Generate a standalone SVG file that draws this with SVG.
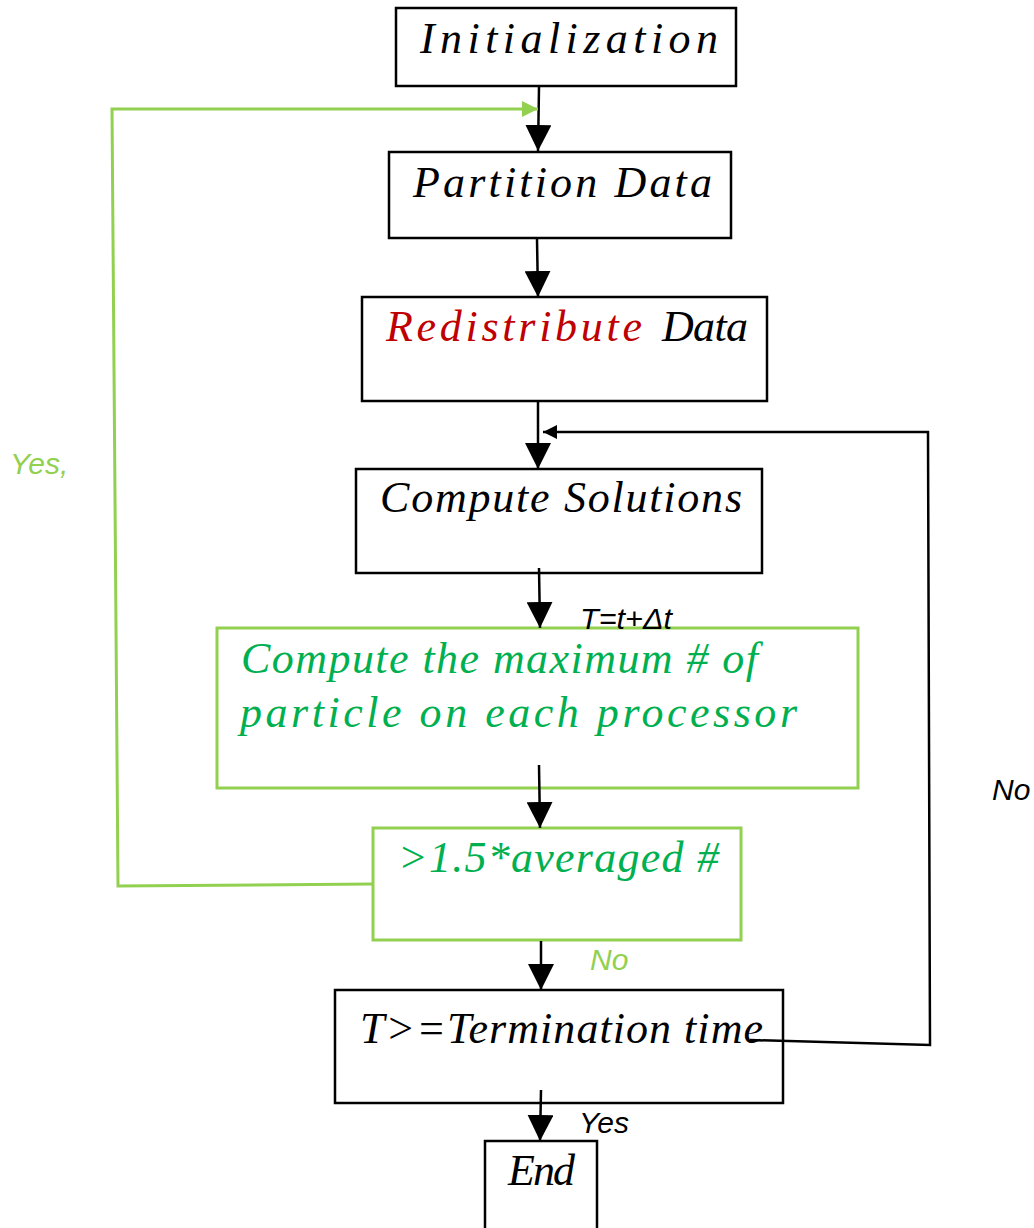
<svg xmlns="http://www.w3.org/2000/svg" width="1034" height="1228" viewBox="0 0 1034 1228">
<style>
.box{fill:#ffffff;stroke:#000000;stroke-width:2.5}
.gbox{fill:#ffffff;stroke:#92d050;stroke-width:3}
.t{font-family:"Liberation Serif","Times New Roman",serif;font-style:italic;font-size:44px;fill:#000000}
.g{fill:#00b050}
.r{fill:#c00000}
.lab{font-family:"Liberation Sans",Arial,sans-serif;font-style:italic;font-size:30px;fill:#000000}
.lg{fill:#92d050}
.c{fill:none;stroke:#000000;stroke-width:2.5}
.cg{fill:none;stroke:#92d050;stroke-width:3}
</style>
<defs>
<marker id="arr" markerUnits="userSpaceOnUse" viewBox="0 0 26 26" refX="26" refY="13" markerWidth="26" markerHeight="26" orient="auto"><path d="M0,0 L26,13 L0,26 z" fill="#000000"/></marker>
<marker id="arrs" markerUnits="userSpaceOnUse" viewBox="0 0 14 14" refX="14" refY="7" markerWidth="14" markerHeight="14" orient="auto"><path d="M0,0 L14,7 L0,14 z" fill="#000000"/></marker>
<marker id="arrg" markerUnits="userSpaceOnUse" viewBox="0 0 16 16" refX="16" refY="8" markerWidth="16" markerHeight="16" orient="auto"><path d="M0,0 L16,8 L0,16 z" fill="#92d050"/></marker>
</defs>
<g id="n-init">
<rect class="box" x="396" y="8" width="340" height="78"/>
<text class="t" x="420" y="53" textLength="298" lengthAdjust="spacing">Initialization</text>
</g>
<g id="n-partition">
<rect class="box" x="389" y="152" width="342" height="86"/>
<text class="t" x="413" y="197" textLength="299" lengthAdjust="spacing">Partition Data</text>
</g>
<g id="n-redistribute">
<rect class="box" x="362" y="297" width="405" height="104"/>
<text class="t r" x="386" y="341" textLength="256" lengthAdjust="spacing">Redistribute</text>
<text class="t" x="662" y="341" textLength="86" lengthAdjust="spacing">Data</text>
</g>
<g id="n-compute">
<rect class="box" x="356" y="469" width="406" height="104"/>
<text class="t" x="380" y="512" textLength="362" lengthAdjust="spacing">Compute Solutions</text>
</g>
<g id="n-maxparticle">
<rect class="gbox" x="217" y="628" width="641" height="160"/>
<text class="t g" x="241" y="673" textLength="517" lengthAdjust="spacing">Compute the maximum # of</text>
<text class="t g" x="240" y="727" textLength="557" lengthAdjust="spacing">particle on each processor</text>
</g>
<g id="n-decision">
<rect class="gbox" x="373" y="828" width="368" height="112"/>
<text class="t g" x="398" y="872" textLength="321" lengthAdjust="spacing">&gt;1.5*averaged #</text>
</g>
<g id="n-termination">
<rect class="box" x="335" y="990" width="448" height="113"/>
<text class="t" x="360" y="1043" textLength="403" lengthAdjust="spacing">T&gt;=Termination time</text>
</g>
<g id="n-end">
<rect class="box" x="485" y="1141" width="112" height="100"/>
<text class="t" x="508" y="1185" textLength="67" lengthAdjust="spacing">End</text>
</g>
<g id="connectors">
<line class="c" x1="539" y1="87" x2="538" y2="151" marker-end="url(#arr)"/>
<line class="c" x1="537" y1="239" x2="538" y2="297" marker-end="url(#arr)"/>
<line class="c" x1="538" y1="402" x2="538" y2="469" marker-end="url(#arr)"/>
<line class="c" x1="539" y1="568" x2="540" y2="628" marker-end="url(#arr)"/>
<line class="c" x1="539" y1="765" x2="540" y2="828" marker-end="url(#arr)"/>
<line class="c" x1="541" y1="941" x2="541" y2="990" marker-end="url(#arr)"/>
<line class="c" x1="541" y1="1090" x2="540" y2="1141" marker-end="url(#arr)"/>
<polyline class="c" points="750,1040 930,1045 928,432 543,432" marker-end="url(#arrs)"/>
<polyline class="cg" points="373,884 118,886 112,109 538,109" marker-end="url(#arrg)"/>
</g>
<g id="labels">
<text class="lab" x="580" y="629" textLength="92" lengthAdjust="spacingAndGlyphs">T=t+Δt</text>
<text class="lab lg" x="10" y="474">Yes,</text>
<text class="lab lg" x="590" y="970">No</text>
<text class="lab" x="992" y="800">No</text>
<text class="lab" x="579" y="1133">Yes</text>
</g>
</svg>
